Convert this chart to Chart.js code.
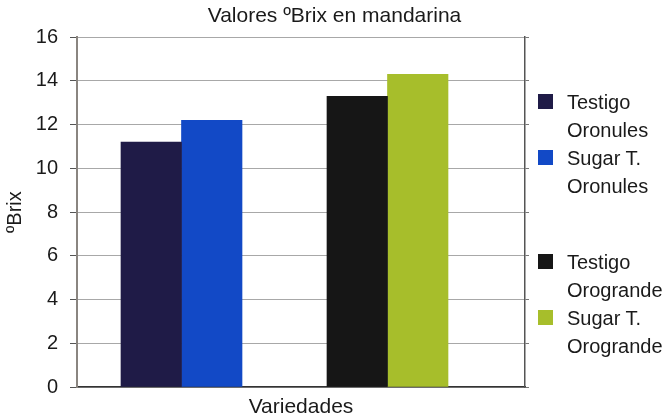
<!DOCTYPE html>
<html>
<head>
<meta charset="utf-8">
<script src="https://cdn.jsdelivr.net/npm/chart.js@4/dist/chart.umd.min.js"></script>
<style>
  body { margin: 0; background: #fff; }
  #wrap { position: relative; width: 669px; height: 420px; }
  #legend { position: absolute; left: 0; top: 0; font-family: "Liberation Sans", Arial, sans-serif; font-size: 20px; color: #1a1a1a; }
  .item { position: absolute; left: 538px; line-height: 28px; }
  .box { position: absolute; left: 0; width: 15px; height: 15px; }
  .txt { position: absolute; left: 29px; white-space: nowrap; }
</style>
</head>
<body>
<div id="wrap">
  <canvas id="chart" width="669" height="420"></canvas>
  <div id="legend"></div>
</div>
<script>
// datos
const seriesNames = ["Testigo Oronules", "Sugar T. Oronules", "Testigo Orogrande", "Sugar T. Orogrande"];
const legendLines = [["Testigo", "Oronules"], ["Sugar T.", "Oronules"], ["Testigo", "Orogrande"], ["Sugar T.", "Orogrande"]];
const brixValues = [11.2, 12.2, 13.3, 14.3];
const varietyPos = [1, 2];          // Oronules, Orogrande
const seriesVariety = [0, 0, 1, 1];
const colors = ["#1f1b47", "#1249c6", "#161616", "#a7be2b"];
const yTicks = [0, 2, 4, 6, 8, 10, 12, 14, 16];

const datasets = seriesNames.map((name, i) => ({
  label: name,
  data: varietyPos.map((x, j) => ({ x: x, y: j === seriesVariety[i] ? brixValues[i] : null })),
  backgroundColor: colors[i],
  borderWidth: 0,
  barThickness: 60.5,
  skipNull: true
}));

const font = "'Liberation Sans', Arial, sans-serif";

new Chart(document.getElementById("chart"), {
  type: "bar",
  data: { datasets },
  options: {
    responsive: false,
    animation: false,
    layout: { padding: 0 },
    plugins: {
      legend: { display: false },
      tooltip: { enabled: false },
      title: {
        display: true,
        text: "Valores ºBrix en mandarina",
        color: "#1a1a1a",
        font: { family: font, size: 21, weight: "normal" },
        padding: { top: 4, bottom: 8 }
      }
    },
    scales: {
      x: {
        type: "linear",
        bounds: "data",
        min: 0.4927,
        max: 2.6675,
        offset: false,
        ticks: { display: false },
        grid: { display: false },
        border: { display: true, color: "#333", width: 1.5 },
        title: {
          display: true,
          text: "Variedades",
          color: "#1a1a1a",
          font: { family: font, size: 21 },
          padding: { top: 0, bottom: 0 }
        },
        afterFit: s => { s.height = 33; }
      },
      y: {
        min: 0,
        max: 16,
        afterBuildTicks: s => { s.ticks = yTicks.map(v => ({ value: v })); },
        ticks: { color: "#1a1a1a", padding: 12, font: { family: font, size: 20 } },
        grid: { color: "#a8a8a8", tickColor: "#555", tickLength: 7, lineWidth: 1 },
        border: { color: "#8a8580", width: 2 },
        title: {
          display: true,
          text: "ºBrix",
          color: "#1a1a1a",
          font: { family: font, size: 20 },
          padding: { top: 3, bottom: 0 }
        },
        afterFit: s => { s.width = 77; }
      },
      y2: {
        position: "right",
        min: 0,
        max: 16,
        afterBuildTicks: s => { s.ticks = yTicks.map(v => ({ value: v })); },
        ticks: { display: false },
        grid: { drawOnChartArea: false, color: "#777", tickLength: 4 },
        border: { color: "#555", width: 1.5 },
        afterFit: s => { s.width = 144; }
      }
    }
  }
});

// leyenda en dos líneas
const legendTops = [88, 144, 248, 304];
const legend = document.getElementById("legend");
legendLines.forEach((lines, i) => {
  const item = document.createElement("div");
  item.className = "item";
  item.style.top = legendTops[i] + "px";
  item.innerHTML = `<div class="box" style="top:6px;background:${colors[i]}"></div>` +
    `<div class="txt">${lines.join("<br>")}</div>`;
  legend.appendChild(item);
});
</script>
</body>
</html>
